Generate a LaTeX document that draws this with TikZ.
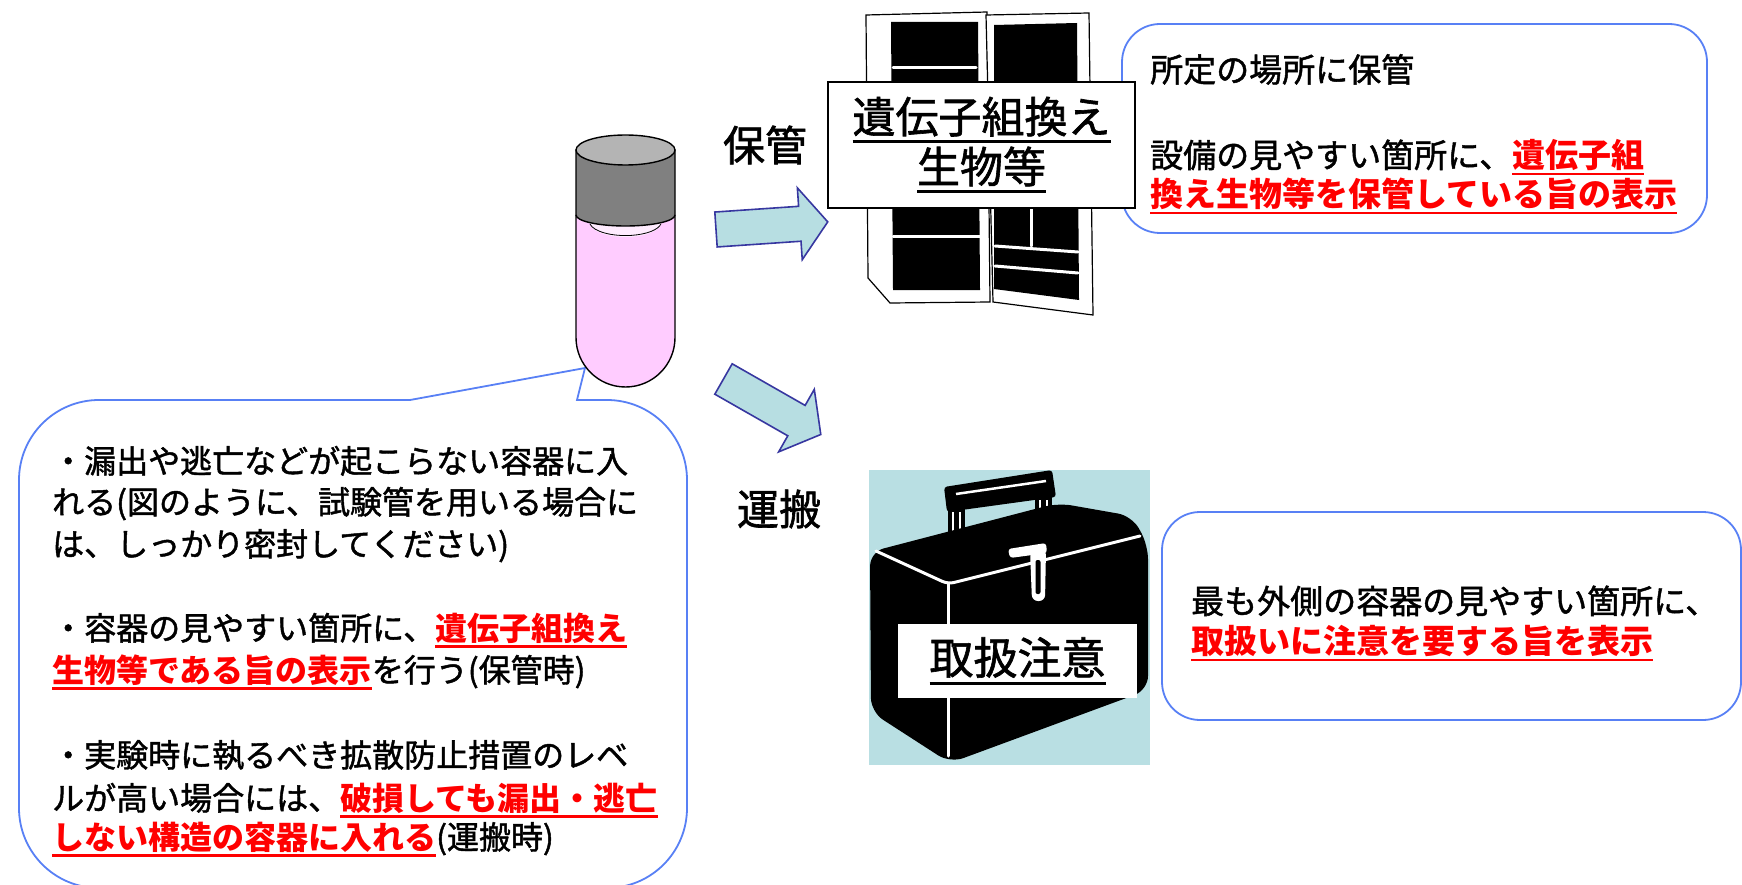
\documentclass[tikz,border=0pt]{standalone}
\usepackage{fontspec}
\setmainfont{Noto Sans CJK JP}
\newfontfamily\jpheavy{Noto Sans CJK JP}[FakeBold=1.4]
\usetikzlibrary{calc}

\definecolor{calloutblue}{RGB}{88,128,245}
\definecolor{arrowfill}{RGB}{183,222,226}
\definecolor{arrowline}{RGB}{55,55,160}
\definecolor{tubepink}{RGB}{255,204,255}
\definecolor{menisc}{RGB}{255,236,255}
\definecolor{capdark}{RGB}{128,128,128}
\definecolor{captop}{RGB}{180,180,180}
\definecolor{casebg}{RGB}{185,223,227}
\definecolor{alertred}{RGB}{255,0,0}

% underline drawn as a rule in the current colour
\newsavebox\undlbox
\newcommand\undl[1]{\sbox\undlbox{#1}\rlap{\rule[-0.24em]{\wd\undlbox}{0.075em}}\usebox\undlbox}
\newcommand\redmark[1]{{\color{alertred}\normalfont\bfseries\undl{#1}}}

\tikzset{
  callout/.style={draw=calloutblue, line width=1.8pt, fill=white},
  bigarrow/.style={fill=arrowfill, draw=arrowline, line width=1.6pt, line join=miter},
  leftline/.style={anchor=base west, inner sep=0pt, font=\fontsize{32}{40}\selectfont\jpheavy},
  rightline/.style={anchor=base west, inner sep=0pt, font=\fontsize{33}{41}\selectfont\jpheavy},
  heading/.style={anchor=center, inner sep=0pt, font=\fontsize{42}{50}\selectfont\jpheavy},
  whiteedge/.style={white, line width=3pt, line cap=round}
}

\begin{document}
\begin{tikzpicture}[x=1pt,y=-1pt]
\useasboundingbox (0,0) rectangle (1742,885);
\clip (0,0) rectangle (1742,885);

% ---------- callout boxes ----------
\draw[callout] (410,400) -- (585,368) -- (577,400) -- (607,400)
  arc[start angle=90,end angle=0,radius=80pt] -- (687,808)
  arc[start angle=0,end angle=-90,radius=80pt] -- (99,888)
  arc[start angle=-90,end angle=-180,radius=80pt] -- (19,480)
  arc[start angle=180,end angle=90,radius=80pt] -- cycle;

\draw[callout, rounded corners=38pt] (1122,24) rectangle (1707,233);
\draw[callout, rounded corners=38pt] (1162,512) rectangle (1741,720);

% ---------- test tube ----------
\fill[tubepink] (576,215) -- (576,337.5)
  arc[start angle=180,end angle=360,radius=49.5pt] -- (675,215) -- cycle;
\fill[menisc] (625.5,222) ellipse[x radius=36pt, y radius=15pt];
\draw[line width=0.8pt] (590,224) arc[start angle=190,end angle=350,x radius=36pt,y radius=14pt];
\draw[line width=1.4pt] (576,215) -- (576,337.5)
  arc[start angle=180,end angle=360,radius=49.5pt] -- (675,215);
\filldraw[fill=capdark, line width=1.4pt] (576,150) -- (576,215)
  arc[start angle=180,end angle=360,x radius=49.5pt,y radius=11pt] -- (675,150) -- cycle;
\filldraw[fill=captop, line width=1.4pt] (625.5,150) ellipse[x radius=49.5pt, y radius=15pt];

% ---------- arrows ----------
\begin{scope}[shift={(716,229.5)}, rotate=3.9]
  \draw[bigarrow] (0,17.5) -- (84,17.5) -- (84,36) -- (112,0) -- (84,-36) -- (84,-17.5) -- (0,-17.5) -- cycle;
\end{scope}
\begin{scope}[shift={(723.5,379)}, rotate=-29.7]
  \draw[bigarrow] (0,17.5) -- (84,17.5) -- (84,36) -- (112,0) -- (84,-36) -- (84,-17.5) -- (0,-17.5) -- cycle;
\end{scope}

\node[heading] (hozon) at (765,145) {保管};
\node[heading] (unpan) at (779,509) {運搬};

% ---------- refrigerator ----------
\filldraw[fill=white, line width=1.2pt] (866,15) -- (987,12) -- (990,302) -- (890,303) -- (868,278) -- cycle;
\fill[black] (891,22) -- (978,22) -- (980,290) -- (893,290) -- cycle;
\draw[whiteedge] (893,68) -- (976,68);
\draw[whiteedge] (893,237) -- (982,237);
\filldraw[fill=white, line width=1.2pt] (986,15) -- (1089,13) -- (1093,315) -- (993,302) -- cycle;
\fill[black] (994,25) -- (1077,23) -- (1079,300) -- (994,289) -- cycle;
\draw[whiteedge] (995,246) -- (1078,252);
\draw[whiteedge] (995,266) -- (1078,273);
\draw[whiteedge] (1031,205) -- (1031,246);
\node[draw, fill=white, line width=1.6pt, minimum width=307pt, minimum height=126pt,
      inner sep=0pt, align=center, font=\fontsize{43}{50}\selectfont\jpheavy] (gmolabel) at (981.5,145)
  {\undl{遺伝子組換え}\\\undl{生物等}};

% ---------- carrying case ----------
\fill[casebg] (869,470) rectangle (1150,765);
\fill[black] (948,505) rectangle (965,556);
\fill[black] (1035,494) rectangle (1052,536);
\draw[white, line width=2.2pt] (953,512) -- (953,552) (960,512) -- (960,552);
\draw[white, line width=2.2pt] (1040,500) -- (1040,532) (1047,500) -- (1047,532);
\fill[black, rounded corners=3pt] (944,487) -- (1052,470) -- (1056,497) -- (947,512) -- cycle;
\draw[white, line width=2.5pt] (956,494) -- (1046,481);
\fill[black, rounded corners=14pt] (870,552) -- (1058,503) -- (1132,516) -- (1148,545)
  -- (1148,690) -- (950,763) -- (871,712) -- cycle;
\draw[whiteedge, rounded corners=6pt] (876,551) -- (948,584) -- (1140,536);
\draw[whiteedge] (948,584) -- (948,756);
\fill[white, rounded corners=3pt] (1008,549) -- (1046,543) -- (1047,553) -- (1010,558) -- cycle;
\fill[white, rounded corners=6pt] (1030,551) -- (1046,549) -- (1045,601) -- (1032,601) -- cycle;
\fill[black, rounded corners=2pt] (1035.5,560) rectangle (1040.5,594);
\node[fill=white, minimum width=239pt, minimum height=74pt, inner sep=0pt,
      font=\fontsize{44}{50}\selectfont\jpheavy] (caution) at (1017.5,661) {\undl{取扱注意}};

% ---------- texts ----------
\node[leftline] (l1) at (52,473) {・漏出や逃亡などが起こらない容器に入};
\node[leftline] (l2) at (52,514) {れる(図のように、試験管を用いる場合に};
\node[leftline] (l3) at (52,556) {は、しっかり密封してください)};
\node[leftline] (l4) at (52,640) {・容器の見やすい箇所に、\redmark{遺伝子組換え}};
\node[leftline] (l5) at (52,682) {\redmark{生物等である旨の表示}を行う(保管時)};
\node[leftline] (l6) at (52,767) {・実験時に執るべき拡散防止措置のレベ};
\node[leftline] (l7) at (52,810) {ルが高い場合には、\redmark{破損しても漏出・逃亡}};
\node[leftline] (l8) at (52,849) {\redmark{しない構造の容器に入れる}(運搬時)};

\node[rightline] (r1) at (1150,82) {所定の場所に保管};
\node[rightline] (r2) at (1150,167.5) {設備の見やすい箇所に、\redmark{遺伝子組}};
\node[rightline] (r3) at (1150,206.5) {\redmark{換え生物等を保管している旨の表示}};

\node[rightline] (b1) at (1191,613.5) {最も外側の容器の見やすい箇所に、};
\node[rightline] (b2) at (1191,653.5) {\redmark{取扱いに注意を要する旨を表示}};
\end{tikzpicture}
\end{document}
